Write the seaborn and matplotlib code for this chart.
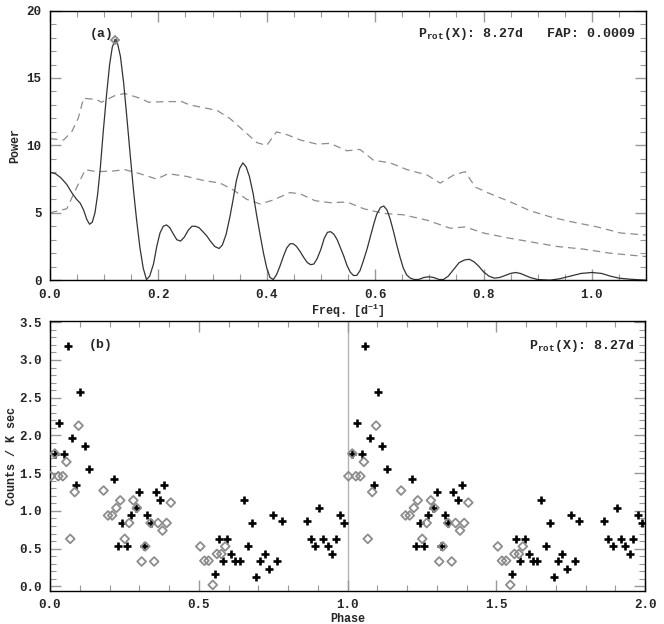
import matplotlib
matplotlib.use("Agg")
import numpy as np
import pandas as pd
import seaborn as sns
import matplotlib.pyplot as plt
from matplotlib.ticker import MultipleLocator, FormatStrFormatter

# periodogram (panel a)
freq = [0.000, 0.010, 0.020, 0.031, 0.040, 0.049, 0.056, 0.062, 0.068, 0.073,
        0.078, 0.083, 0.088, 0.093, 0.098, 0.104, 0.110, 0.115, 0.120, 0.125,
        0.130, 0.136, 0.142, 0.148, 0.154, 0.160, 0.166, 0.172, 0.178, 0.184,
        0.191, 0.197, 0.203, 0.209, 0.215, 0.221, 0.228, 0.234, 0.241, 0.248,
        0.255, 0.262, 0.268, 0.275, 0.282, 0.289, 0.296, 0.304, 0.312, 0.318,
        0.325, 0.332, 0.338, 0.344, 0.350, 0.356, 0.362, 0.368, 0.375, 0.381,
        0.388, 0.394, 0.400, 0.406, 0.412, 0.418, 0.424, 0.431, 0.437, 0.443,
        0.449, 0.455, 0.462, 0.468, 0.475, 0.481, 0.487, 0.493, 0.500, 0.506,
        0.512, 0.518, 0.524, 0.530, 0.536, 0.542, 0.548, 0.554, 0.560, 0.566,
        0.572, 0.578, 0.585, 0.591, 0.597, 0.603, 0.610, 0.616, 0.622, 0.628,
        0.634, 0.640, 0.646, 0.652, 0.658, 0.665, 0.672, 0.680, 0.690, 0.699,
        0.708, 0.718, 0.726, 0.735, 0.745, 0.755, 0.765, 0.774, 0.783, 0.792,
        0.800, 0.810, 0.820, 0.830, 0.840, 0.850, 0.859, 0.868, 0.877, 0.886,
        0.900, 0.923, 0.940, 0.960, 0.980, 1.000, 1.018, 1.034, 1.050, 1.071,
        1.100]
power = [8.0, 7.9, 7.6, 7.1, 6.5, 6.0, 5.7, 5.2, 4.5, 4.15,
         4.3, 5.0, 6.4, 8.4, 10.9, 13.6, 16.0, 17.3, 17.8, 17.5,
         16.6, 14.6, 12.0, 9.3, 6.7, 4.4, 2.4, 0.9, 0.05, 0.3,
         1.2, 2.5, 3.5, 4.0, 4.1, 3.9, 3.4, 3.0, 2.9, 3.2,
         3.7, 4.0, 4.0, 3.9, 3.6, 3.3, 2.9, 2.5, 2.35, 2.6,
         3.4, 4.7, 6.0, 7.4, 8.3, 8.7, 8.4, 7.7, 6.4, 4.9,
         3.3, 2.0, 0.9, 0.2, 0.05, 0.4, 1.0, 1.8, 2.4, 2.7,
         2.7, 2.5, 2.1, 1.7, 1.3, 1.15, 1.2, 1.6, 2.3, 3.1,
         3.55, 3.6, 3.4, 3.0, 2.4, 1.8, 1.1, 0.6, 0.35, 0.35,
         0.7, 1.4, 2.3, 3.2, 4.1, 4.9, 5.4, 5.5, 5.2, 4.5,
         3.6, 2.6, 1.7, 0.9, 0.4, 0.15, 0.05, 0.05, 0.2, 0.25,
         0.2, 0.05, 0.05, 0.3, 0.8, 1.3, 1.5, 1.55, 1.35, 1.0,
         0.62, 0.3, 0.15, 0.2, 0.35, 0.5, 0.57, 0.5, 0.35, 0.2,
         0.05, 0.0, 0.1, 0.3, 0.5, 0.57, 0.5, 0.3, 0.15, 0.07,
         0.0]

# significance levels (dashed)
freq_hi = [0.0, 0.025, 0.040, 0.052, 0.062, 0.086, 0.095, 0.120, 0.138, 0.166,
           0.182, 0.215, 0.243, 0.258, 0.283, 0.308, 0.332, 0.357, 0.382, 0.400,
           0.418, 0.437, 0.462, 0.492, 0.517, 0.548, 0.572, 0.597, 0.628, 0.659,
           0.696, 0.720, 0.745, 0.766, 0.785, 0.813, 0.850, 0.886, 0.923, 0.960,
           1.010, 1.053, 1.100]
pow_hi = [10.5, 10.4, 11.0, 12.0, 13.5, 13.4, 13.2, 13.7, 13.85, 13.5,
          13.2, 13.25, 13.25, 13.0, 12.8, 12.6, 12.0, 11.1, 10.2, 10.0,
          11.0, 10.8, 10.4, 10.1, 10.15, 9.6, 9.7, 8.9, 8.7, 8.2,
          7.8, 7.2, 7.8, 8.05, 6.9, 6.4, 5.8, 5.15, 4.7, 4.35,
          3.95, 3.5, 3.35]
freq_lo = [0.0, 0.031, 0.046, 0.065, 0.086, 0.117, 0.138, 0.166, 0.197, 0.218,
           0.252, 0.283, 0.314, 0.338, 0.363, 0.388, 0.412, 0.443, 0.462, 0.489,
           0.517, 0.548, 0.579, 0.616, 0.652, 0.696, 0.739, 0.766, 0.800, 0.843,
           0.886, 0.936, 0.985, 1.034, 1.100]
pow_lo = [5.0, 5.3, 6.6, 8.2, 8.05, 8.1, 8.2, 7.9, 7.5, 7.9,
          7.7, 7.4, 7.2, 6.7, 6.0, 5.65, 5.95, 6.5, 6.4, 5.9,
          5.75, 5.8, 5.3, 4.95, 4.85, 4.45, 3.85, 3.95, 3.5, 3.15,
          2.85, 2.5, 2.3, 2.0, 1.75]

peak_freq = 0.120
peak_power = 17.8

# folded light curve (panel b)
phase_plus = [0.016, 0.031, 0.047, 0.059, 0.075, 0.089, 0.102, 0.117, 0.131, 0.215,
              0.230, 0.243, 0.258, 0.271, 0.288, 0.299, 0.315, 0.327, 0.338, 0.356,
              0.371, 0.384, 0.553, 0.567, 0.580, 0.595, 0.610, 0.623, 0.637, 0.651,
              0.666, 0.679, 0.694, 0.707, 0.722, 0.736, 0.751, 0.764, 0.779, 0.863,
              0.877, 0.891, 0.905, 0.919, 0.933, 0.948, 0.961, 0.976, 0.989]
rate_plus = [1.76, 2.17, 1.76, 3.19, 1.96, 1.35, 2.58, 1.86, 1.55, 1.42,
             0.53, 0.84, 0.53, 0.94, 1.04, 1.25, 0.53, 0.94, 0.84, 1.25,
             1.14, 1.35, 0.16, 0.63, 0.33, 0.63, 0.43, 0.33, 0.33, 1.14,
             0.53, 0.84, 0.13, 0.33, 0.43, 0.23, 0.94, 0.33, 0.87, 0.87,
             0.63, 0.53, 1.04, 0.63, 0.53, 0.43, 0.63, 0.94, 0.84]
phase_diam = [0.003, 0.016, 0.028, 0.043, 0.055, 0.068, 0.083, 0.096, 0.180, 0.195,
              0.209, 0.223, 0.236, 0.251, 0.266, 0.280, 0.292, 0.308, 0.320, 0.338,
              0.350, 0.363, 0.378, 0.392, 0.406, 0.505, 0.519, 0.533, 0.547, 0.561,
              0.576, 0.589]
rate_diam = [1.46, 1.76, 1.46, 1.46, 1.65, 0.63, 1.25, 2.13, 1.27, 0.94,
             0.94, 1.04, 1.14, 0.63, 0.84, 1.14, 1.04, 0.33, 0.53, 0.84,
             0.33, 0.84, 0.74, 0.84, 1.11, 0.53, 0.34, 0.34, 0.02, 0.43,
             0.43, 0.53]

sns.set_style("ticks")
plt.rcParams["font.family"] = ["Liberation Mono", "DejaVu Sans Mono"]
plt.rcParams["font.weight"] = "bold"
plt.rcParams["mathtext.fontset"] = "custom"
plt.rcParams["mathtext.rm"] = "Liberation Mono:bold"
plt.rcParams["mathtext.it"] = "Liberation Mono:bold"
plt.rcParams["mathtext.bf"] = "Liberation Mono:bold"

fig = plt.figure(figsize=(6.64, 6.24), dpi=100)
ax1 = fig.add_axes([0.0753, 0.551, 0.8977, 0.432])
ax2 = fig.add_axes([0.0753, 0.053, 0.8962, 0.433])

dash = (0, (6, 4))
sns.lineplot(x=freq_hi, y=pow_hi, ax=ax1, sort=False, estimator=None,
             color="0.55", lw=0.9, linestyle=dash)
sns.lineplot(x=freq_lo, y=pow_lo, ax=ax1, sort=False, estimator=None,
             color="0.55", lw=0.9, linestyle=dash)
sns.lineplot(x=freq, y=power, ax=ax1, sort=False, estimator=None,
             color="0.2", lw=0.9)
ax1.plot([peak_freq], [peak_power], marker="D", ms=4.5, mfc="none",
         mec="0.55", mew=1.3, ls="none")
ax1.plot([peak_freq], [peak_power], marker="o", ms=1.5, color="0.3", ls="none")

ax1.set_xlim(0, 1.1)
ax1.set_ylim(0, 20)
ax1.xaxis.set_major_locator(MultipleLocator(0.2))
ax1.xaxis.set_minor_locator(MultipleLocator(0.05))
ax1.yaxis.set_major_locator(MultipleLocator(5))
ax1.yaxis.set_minor_locator(MultipleLocator(1))
ax1.xaxis.set_major_formatter(FormatStrFormatter("%.1f"))
ax1.set_xlabel("Freq. [d$^{-1}$]", fontsize=8.5, fontweight="bold", labelpad=1)
ax1.set_ylabel("Power", fontsize=8.5, fontweight="bold", labelpad=4)
ax1.text(0.074, 18.3, "(a)", fontsize=9.5, fontweight="bold", va="center")
ax1.text(1.080, 18.3, "P$_{\\rm rot}$(X): 8.27d   FAP: 0.0009", fontsize=9.5,
         fontweight="bold", va="center", ha="right")

# folded light curve shown over two cycles
df_plus = pd.DataFrame({"phase": phase_plus + [p + 1 for p in phase_plus],
                        "rate": rate_plus + rate_plus})
df_diam = pd.DataFrame({"phase": phase_diam + [p + 1 for p in phase_diam],
                        "rate": rate_diam + rate_diam})
ax2.axvline(1.0, color="0.7", lw=1, zorder=0)
sns.scatterplot(data=df_plus, x="phase", y="rate", ax=ax2, marker="+",
                s=32, color="black", linewidth=1.9, zorder=2)
sns.scatterplot(data=df_diam, x="phase", y="rate", ax=ax2, marker="D",
                s=20, facecolor="none", edgecolor="0.55", linewidth=1.3, zorder=3)

ax2.set_xlim(0, 2)
ax2.set_ylim(-0.06, 3.52)
ax2.xaxis.set_major_locator(MultipleLocator(0.5))
ax2.xaxis.set_minor_locator(MultipleLocator(0.1))
ax2.yaxis.set_major_locator(MultipleLocator(0.5))
ax2.yaxis.set_minor_locator(MultipleLocator(0.1))
ax2.xaxis.set_major_formatter(FormatStrFormatter("%.1f"))
ax2.yaxis.set_major_formatter(FormatStrFormatter("%.1f"))
ax2.set_xlabel("Phase", fontsize=8.5, fontweight="bold", labelpad=1)
ax2.set_ylabel("Counts / K sec", fontsize=8.5, fontweight="bold", labelpad=1)
ax2.text(0.129, 3.2, "(b)", fontsize=9.5, fontweight="bold", va="center")
ax2.text(1.966, 3.19, "P$_{\\rm rot}$(X): 8.27d", fontsize=9.5,
         fontweight="bold", va="center", ha="right")

for ax in (ax1, ax2):
    ax.tick_params(which="both", direction="in", top=True, right=True,
                   color="0.6", labelsize=9, pad=6)
    ax.tick_params(which="major", length=8, width=1)
    ax.tick_params(which="minor", length=4, width=0.8)
    for lab in ax.get_xticklabels() + ax.get_yticklabels():
        lab.set_fontweight("bold")
    for sp in ax.spines.values():
        sp.set_color("black")
        sp.set_linewidth(1)

fig.savefig("out.png", dpi=100)
